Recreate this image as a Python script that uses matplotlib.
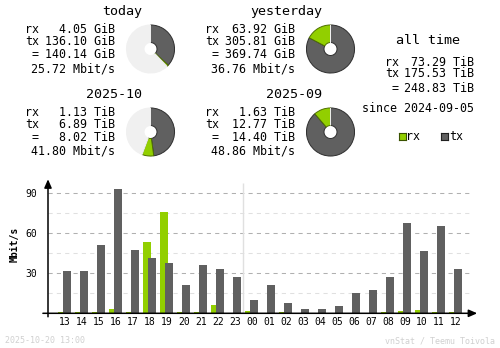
import matplotlib
matplotlib.use("Agg")
from matplotlib import pyplot as plt
import numpy as np

W, H = 500, 348
MONO = "DejaVu Sans Mono"
RX_COLOR = "#92cf00"
TX_COLOR = "#606060"
EMPTY_COLOR = "#f0f0f0"

# hourly averages, Mbit/s
hours = ["13", "14", "15", "16", "17", "18", "19", "20", "21", "22", "23",
         "00", "01", "02", "03", "04", "05", "06", "07", "08", "09", "10", "11", "12"]
rx_mbit = [1.0, 1.0, 1.0, 3.2, 1.0, 53.5, 76.0, 1.0, 1.0, 6.2, 0.0,
           1.5, 0.0, 1.0, 0.0, 0.0, 0.0, 0.0, 0.0, 1.0, 2.0, 2.5, 1.0, 1.0]
tx_mbit = [31.7, 31.7, 51.2, 93.2, 47.5, 41.5, 37.7, 21.2, 36.2, 33.2, 27.2,
           10.0, 21.2, 7.7, 3.2, 3.2, 5.5, 15.2, 17.5, 27.2, 67.7, 46.7, 65.5, 33.2]

# summary blocks: title, rx, tx, total, rate, rx/tx/total in base unit, reference total
block_titles = ["today", "yesterday", "2025-10", "2025-09"]
block_rx = ["4.05 GiB", "63.92 GiB", "1.13 TiB", "1.63 TiB"]
block_tx = ["136.10 GiB", "305.81 GiB", "6.89 TiB", "12.77 TiB"]
block_total = ["140.14 GiB", "369.74 GiB", "8.02 TiB", "14.40 TiB"]
block_rate = ["25.72 Mbit/s", "36.76 Mbit/s", "41.80 Mbit/s", "48.86 Mbit/s"]
pie_rx = [4.05, 63.92, 1.13, 1.63]
pie_tx = [136.10, 305.81, 6.89, 12.77]
pie_ref = [369.74, 369.74, 14.40, 14.40]

alltime_rx = "73.29 TiB"
alltime_tx = "175.53 TiB"
alltime_total = "248.83 TiB"
alltime_since = "since 2024-09-05"


def fx(x):
    return x / W


def fy(y):
    return 1 - y / H


def ptext(x, y, s, **kw):
    kw.setdefault("family", MONO)
    kw.setdefault("fontsize", 8.4)
    kw.setdefault("va", "baseline")
    fig.text(fx(x), fy(y), s, **kw)


fig = plt.figure(figsize=(W / 100, H / 100), dpi=100, facecolor="white")

# --- summary blocks ---
offsets = [(0, 0), (180, 0), (0, 83), (180, 83)]
for i, (dx, dy) in enumerate(offsets):
    ptext(142 + dx, 15 + dy, block_titles[i], fontsize=9.6, ha="right")
    ptext(25 + dx, 33 + dy, "rx")
    ptext(25 + dx, 45.3 + dy, "tx")
    ptext(25 + dx, 58 + dy, " =")
    ptext(115 + dx, 33 + dy, block_rx[i], ha="right")
    ptext(115 + dx, 45.3 + dy, block_tx[i], ha="right")
    ptext(115 + dx, 58 + dy, block_total[i], ha="right")
    ptext(115 + dx, 72 + dy, block_rate[i], ha="right")

    # donut, filled relative to the reference period
    cx, cy, r = 150.5 + dx, 49 + dy, 25
    pax = fig.add_axes([fx(cx - r), fy(cy + r), 2 * r / W, 2 * r / H])
    rest = max(pie_ref[i] - pie_tx[i] - pie_rx[i], 0)
    vals = [pie_tx[i], pie_rx[i], rest]
    wedges, _ = pax.pie(vals, colors=[TX_COLOR, RX_COLOR, EMPTY_COLOR],
                        startangle=90, counterclock=False, radius=1,
                        wedgeprops=dict(width=0.73, linewidth=0.7))
    wedges[0].set_edgecolor("#2e2e2e")
    wedges[1].set_edgecolor("#4f7000")
    wedges[2].set_edgecolor(EMPTY_COLOR)
    pax.set_xlim(-1.04, 1.04)
    pax.set_ylim(-1.04, 1.04)
    pax.set_aspect("equal")
    pax.axis("off")

# --- all time ---
ptext(428, 43.5, "all time", fontsize=9.6, ha="center")
ptext(385, 65.7, "rx")
ptext(385, 77.3, "tx")
ptext(385, 91.7, " =")
ptext(474, 65.7, alltime_rx, ha="right")
ptext(474, 77.3, alltime_tx, ha="right")
ptext(474, 91.7, alltime_total, ha="right")
ptext(474, 111.7, alltime_since, ha="right")

# legend squares
for sx, col, edge, lab in [(398.5, RX_COLOR, "#3a5200", "rx"), (441, TX_COLOR, "#202020", "tx")]:
    sq = fig.add_axes([fx(sx), fy(139.5), 7 / W, 7 / H])
    sq.set_facecolor(col)
    for sp in sq.spines.values():
        sp.set_color(edge)
        sp.set_linewidth(0.8)
    sq.set_xticks([])
    sq.set_yticks([])
    ptext(sx + 8, 140, lab)

# --- hourly bar chart ---
ax = fig.add_axes([fx(48), fy(313.3), 428 / W, 132.3 / H])
x = np.arange(len(hours))
ax.bar(x - 3 / 17, rx_mbit, width=8 / 17, color=RX_COLOR, linewidth=0, zorder=3)
ax.bar(x + 2 / 17, tx_mbit, width=8 / 17, color=TX_COLOR, linewidth=0, zorder=4)
ax.set_xlim(-1, 24.18)
ax.set_ylim(0, 99.2)

for yv in [15, 45, 75]:
    ax.hlines(yv, -1, 24.0, colors="#e0e0e0", linewidth=0.75, linestyles=(0, (4, 4)), zorder=1)
for yv in [30, 60, 90]:
    ax.hlines(yv, -1, 24.0, colors="#b0b0b0", linewidth=0.75, linestyles=(0, (4, 4)), zorder=1)
# day change
ax.vlines(10.5, 0, 97.7, colors="#e0e0e0", linewidth=1, zorder=2)

for sp in ax.spines.values():
    sp.set_visible(False)
ax.annotate("", xy=(24.25, 0), xytext=(-1.3, 0), annotation_clip=False,
            arrowprops=dict(arrowstyle="-|>,head_length=0.5,head_width=0.22",
                            color="black", lw=1.1, shrinkA=0, shrinkB=0), zorder=6)
ax.annotate("", xy=(-1, 100.5), xytext=(-1, -2.6), annotation_clip=False,
            arrowprops=dict(arrowstyle="-|>,head_length=0.5,head_width=0.22",
                            color="black", lw=1.1, shrinkA=0, shrinkB=0), zorder=6)

ax.set_xticks(x)
ax.set_xticklabels(hours, family=MONO, fontsize=7)
ax.set_yticks([30, 60, 90])
ax.set_yticklabels(["30", "60", "90"], family=MONO, fontsize=7)
ax.tick_params(axis="x", length=0, pad=2.5)
ax.tick_params(axis="y", length=0, pad=7.5)
ax.set_facecolor("none")

fig.text(fx(14.5), fy(244), "Mbit/s", family=MONO, fontsize=7, fontweight="bold",
         rotation=90, ha="center", va="center")

ptext(5, 343, "2025-10-20 13:00", fontsize=6, color="#d0d0d0")
ptext(495, 343, "vnStat / Teemu Toivola", fontsize=6, color="#d0d0d0", ha="right")

fig.savefig("out.png", dpi=100, facecolor="white")
